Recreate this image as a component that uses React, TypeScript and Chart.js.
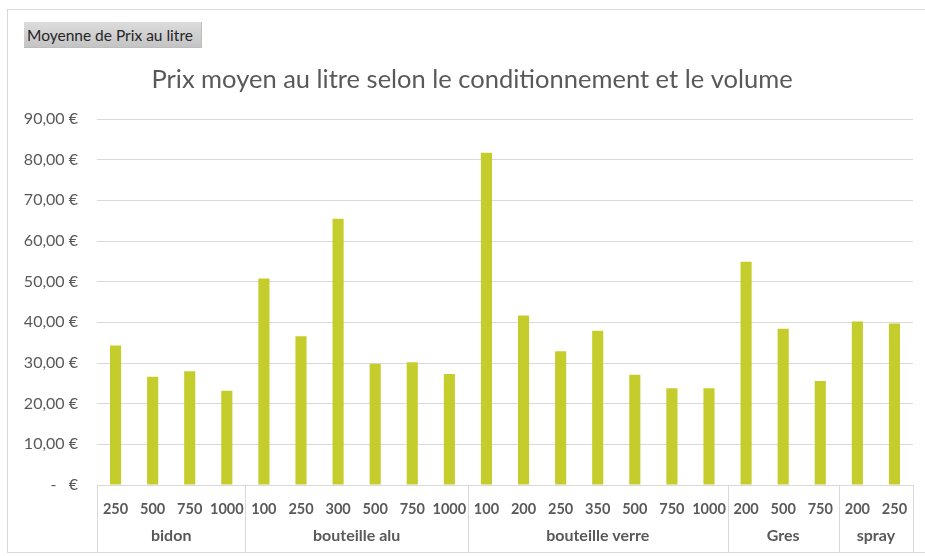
import React, { useEffect, useRef } from "react";
import { Chart, registerables } from "chart.js";

Chart.register(...registerables);

const volumes = ["250", "500", "750", "1000", "100", "250", "300", "500", "750", "1000", "100", "200", "250", "350", "500", "750", "1000", "200", "500", "750", "200", "250"];
const prices = [34.3, 26.6, 28.0, 23.2, 50.8, 36.6, 65.5, 29.8, 30.2, 27.3, 81.7, 41.7, 32.9, 37.9, 27.1, 23.8, 23.8, 54.9, 38.4, 25.6, 40.2, 39.7];
const groups = ["bidon", "bouteille alu", "bouteille verre", "Gres", "spray"];
const groupSizes = [4, 6, 7, 3, 2];
const yTicks = [0, 10, 20, 30, 40, 50, 60, 70, 80, 90];
const titleText = "Prix moyen au litre selon le conditionnement et le volume";

const FONT = "Lato, 'Open Sans', sans-serif";
const TXT = "#595959";
const LINE = "#d9d9d9";

const frameAndGroups = {
  id: "frameAndGroups",
  beforeDraw(chart: any) {
    const ctx = chart.ctx;
    ctx.save();
    ctx.fillStyle = "#ffffff";
    ctx.fillRect(0, 0, chart.width, chart.height);
    ctx.strokeStyle = LINE;
    ctx.lineWidth = 1;
    ctx.strokeRect(7.5, 9.5, chart.width, 543);
    ctx.fillStyle = TXT;
    ctx.font = "25.5px " + FONT;
    ctx.textAlign = "center";
    ctx.textBaseline = "middle";
    ctx.fillText(titleText, 472, 80);
    ctx.restore();
  },
  afterDraw(chart: any) {
    const ctx = chart.ctx;
    const xs = chart.scales.x;
    const n = volumes.length;
    const boundary = (i: number) => {
      if (i <= 0) return xs.left;
      if (i >= n) return xs.right;
      return (xs.getPixelForValue(i - 1) + xs.getPixelForValue(i)) / 2;
    };
    ctx.save();
    ctx.strokeStyle = LINE;
    ctx.lineWidth = 1;
    let start = 0;
    const edges: number[] = [0];
    groupSizes.forEach((s) => {
      start += s;
      edges.push(start);
    });
    edges.forEach((e) => {
      const x = Math.round(boundary(e)) + 0.5;
      ctx.beginPath();
      ctx.moveTo(x, xs.top);
      ctx.lineTo(x, 553);
      ctx.stroke();
    });
    ctx.fillStyle = TXT;
    ctx.font = "bold 16px " + FONT;
    ctx.textAlign = "center";
    ctx.textBaseline = "middle";
    groups.forEach((g, gi) => {
      const x0 = boundary(edges[gi]);
      const x1 = boundary(edges[gi + 1]);
      ctx.fillText(g, (x0 + x1) / 2, 536);
    });
    ctx.restore();
  },
};

export default function App() {
  const ref = useRef<HTMLCanvasElement | null>(null);
  useEffect(() => {
    if (!ref.current) return;
    const chart = new Chart(ref.current, {
      type: "bar",
      data: {
        labels: volumes,
        datasets: [
          {
            label: "Moyenne de Prix au litre",
            data: prices,
            backgroundColor: "#c5cd2c",
            borderWidth: 0,
            barPercentage: 0.3,
            categoryPercentage: 1,
          },
        ],
      },
      options: {
        animation: false,
        responsive: false,
        maintainAspectRatio: false,
        layout: { padding: { left: 7, right: 12, top: 119, bottom: 1 } },
        plugins: {
          legend: { display: false },
          tooltip: { enabled: false },
          title: { display: false },
        },
        scales: {
          x: {
            grid: { display: false, drawTicks: false },
            border: { display: true, color: LINE, width: 1 },
            ticks: {
              color: TXT,
              font: { family: FONT, size: 14.5, weight: "bold" },
              padding: 16,
              maxRotation: 0,
              autoSkip: false,
            },
            afterFit(scale: any) {
              scale.height = 70;
            },
          },
          y: {
            min: 0,
            max: 90,
            afterBuildTicks(scale: any) {
              scale.ticks = yTicks.map((v) => ({ value: v }));
            },
            grid: { color: LINE, lineWidth: 1, drawTicks: false },
            border: { display: false },
            ticks: {
              color: TXT,
              font: { family: FONT, size: 16 },
              padding: 19,
              callback: (v: any) =>
                Number(v) === 0 ? "-   €" : Number(v).toFixed(2).replace(".", ",") + " €",
            },
            afterFit(scale: any) {
              scale.width = 90;
            },
          },
        },
      },
      plugins: [frameAndGroups],
    });
    return () => chart.destroy();
  }, []);

  return (
    <div style={{ position: "absolute", left: 0, top: 0, width: 925, height: 556 }}>
      <canvas ref={ref} width={925} height={556} style={{ display: "block", width: 925, height: 556 }} />
      <div
        style={{
          position: "absolute",
          left: 24,
          top: 22,
          width: 178,
          height: 26,
          boxSizing: "border-box",
          background: "linear-gradient(#dcdcdc, #c4c4c4)",
          borderRight: "1px solid #bdbdbd",
          borderBottom: "1px solid #bdbdbd",
          fontFamily: FONT,
          fontSize: 15.5,
          color: "#262626",
          lineHeight: "26px",
          paddingLeft: 3,
          whiteSpace: "nowrap",
        }}
      >
        Moyenne de Prix au litre
      </div>
    </div>
  );
}
